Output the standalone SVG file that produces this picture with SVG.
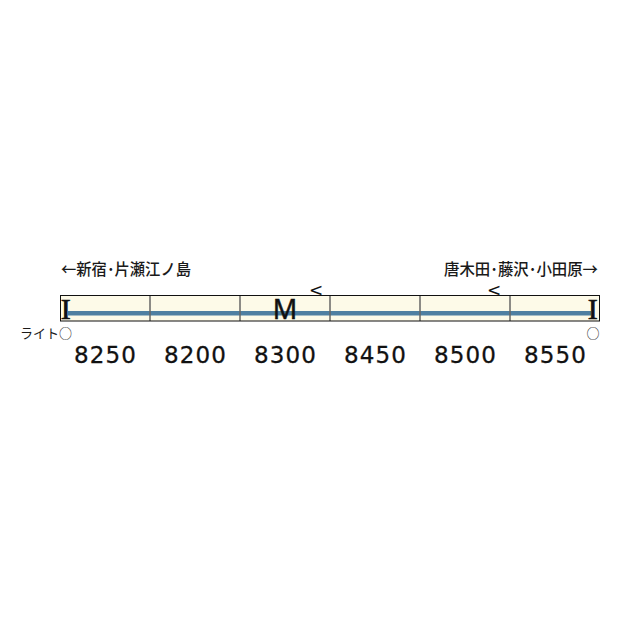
<svg xmlns="http://www.w3.org/2000/svg" width="630" height="630" viewBox="0 0 630 630">
<style>
.jp{font-family:"Noto Sans CJK JP","Noto Sans",sans-serif;fill:#1a1a1a}
.num{font-family:"DejaVu Sans",sans-serif;font-size:23px;fill:#111;stroke:#111;stroke-width:0.3;text-anchor:middle}
.car{fill:#fdfae8;stroke:none}
.div{stroke:#666;stroke-width:1.5}
.stripe{fill:#4f7fa1}
.end{font-family:"Liberation Serif",serif;font-size:30px;fill:#111;stroke:#111;stroke-width:0.7;text-anchor:middle}
.mk{font-family:"DejaVu Sans",sans-serif;font-size:17px;fill:#111;text-anchor:middle}
</style>
<rect width="630" height="630" fill="#fff"/>
<g id="labels">
<text class="jp" x="61" y="275" font-size="16" font-weight="500" textLength="130" lengthAdjust="spacingAndGlyphs">←新宿･片瀬江ノ島</text>
<text class="jp" x="598" y="275" font-size="16" font-weight="500" text-anchor="end" textLength="154" lengthAdjust="spacingAndGlyphs">唐木田･藤沢･小田原→</text>
</g>
<g id="train">
<rect class="car" x="60" y="295" width="540" height="26"/>
<rect class="stripe" x="68" y="311" width="523" height="4.5"/>
</g>
<g id="connectors">
<line class="div" x1="150" y1="295" x2="150" y2="321"/>
<line class="div" x1="240" y1="295" x2="240" y2="321"/>
<line class="div" x1="330" y1="295" x2="330" y2="321"/>
<line class="div" x1="420" y1="295" x2="420" y2="321"/>
<line class="div" x1="510" y1="295" x2="510" y2="321"/>
</g>
<rect x="60.5" y="295.5" width="539" height="25.5" fill="none" stroke="#111" stroke-width="1"/>
<g id="car-8250">
<text class="end" x="65.7" y="318.5">I</text>
<text class="num" x="105" y="362.5" textLength="62" lengthAdjust="spacing">8250</text>
</g>
<g id="car-8200">
<text class="num" x="195" y="362.5" textLength="62" lengthAdjust="spacing">8200</text>
</g>
<g id="car-8300">
<text x="285" y="318.5" font-family="Noto Sans,sans-serif" font-size="27" fill="#111" stroke="#111" stroke-width="0.5" text-anchor="middle">M</text>
<text class="mk" x="316" y="296">&lt;</text>
<text class="num" x="285" y="362.5" textLength="62" lengthAdjust="spacing">8300</text>
</g>
<g id="car-8450">
<text class="num" x="375" y="362.5" textLength="62" lengthAdjust="spacing">8450</text>
</g>
<g id="car-8500">
<text class="mk" x="494" y="296">&lt;</text>
<text class="num" x="465" y="362.5" textLength="62" lengthAdjust="spacing">8500</text>
</g>
<g id="car-8550">
<text class="end" x="592.7" y="318.5">I</text>
<text class="num" x="555" y="362.5" textLength="62" lengthAdjust="spacing">8550</text>
</g>
<g id="lights">
<text class="jp" x="20" y="338" font-size="13" textLength="52" lengthAdjust="spacingAndGlyphs">ライト○</text>
<text class="jp" x="593" y="338" font-size="13" text-anchor="middle">○</text>
</g>
</svg>
